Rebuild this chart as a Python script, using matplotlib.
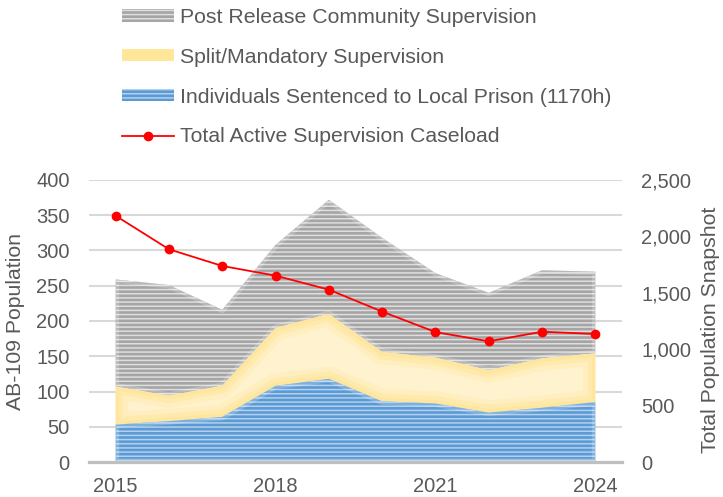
import matplotlib
matplotlib.use("Agg")
import matplotlib.pyplot as plt
import numpy as np
from matplotlib.patches import Patch, Polygon
from matplotlib.lines import Line2D
from matplotlib.ticker import FuncFormatter

years = [2015, 2016, 2017, 2018, 2019, 2020, 2021, 2022, 2023, 2024]
local_prison = [53, 58, 64, 108, 118, 86, 83, 70, 77, 85]
split_mandatory = [54, 36, 44, 82, 92, 70, 65, 60, 70, 69]
prcs = [152, 157, 108, 118, 162, 162, 120, 110, 125, 116]
total_caseload = [2183, 1886, 1738, 1652, 1528, 1333, 1152, 1070, 1155, 1135]
shown_year_labels = ["2015", "", "", "2018", "", "", "2021", "", "", "2024"]

labels = ["Post Release Community Supervision",
          "Split/Mandatory Supervision",
          "Individuals Sentenced to Local Prison (1170h)",
          "Total Active Supervision Caseload"]

plt.rcParams['font.family'] = ['Liberation Sans', 'DejaVu Sans']
plt.rcParams['hatch.linewidth'] = 1.1
TXT = '#595959'
LBL = 15.3

fig = plt.figure(figsize=(7.23, 4.97), dpi=100)
ax = fig.add_axes([89/723, 1-462/497, 533/723, 282/497])

x = np.arange(len(years))
b0 = np.zeros(len(x))
b1 = np.array(local_prison, float)
b2 = b1 + np.array(split_mandatory, float)
b3 = b2 + np.array(prcs, float)

def area(lo, hi, face, hatchcol, hatch, glows, z):
    verts = np.vstack([np.column_stack([x, hi]), np.column_stack([x[::-1], lo[::-1]])])
    poly = Polygon(verts, closed=True, facecolor=face, edgecolor=hatchcol if hatch else 'none',
                   hatch=hatch, linewidth=0, zorder=z)
    ax.add_patch(poly)
    for col, lw, a in glows:
        ln, = ax.plot(np.r_[verts[:, 0], verts[0, 0]], np.r_[verts[:, 1], verts[0, 1]],
                      color=col, lw=lw, alpha=a, zorder=z + 0.1, solid_joinstyle='round')
        ln.set_clip_path(poly)
    return poly

area(b2, b3, '#A5A5A5', '#DEDEDE', '----', [('white', 5, 0.22)], 2)
area(b1, b2, '#FFF3CF', None, None,
     [('#FFE38F', 18, 0.22), ('#FFE38F', 11, 0.35), ('#FFE38F', 5, 0.5)], 3)
area(b0, b1, '#5B9BD5', '#B4D0EC', '----', [('white', 5, 0.22)], 4)

ax.set_xlim(-0.5, len(x) - 0.5)
ax.set_ylim(0, 400)
ax.set_yticks(range(0, 401, 50))
ax.set_xticks(x)
ax.set_xticklabels(shown_year_labels)
ax.set_axisbelow(True)
ax.yaxis.grid(True, color='#D9D9D9', lw=1.5)
for s in ['top', 'right', 'left']:
    ax.spines[s].set_visible(False)
ax.spines['bottom'].set_color('#BFBFBF')
ax.spines['bottom'].set_linewidth(2.3)
ax.spines['bottom'].set_zorder(5)
ax.tick_params(axis='both', length=0, labelsize=14.5, labelcolor=TXT)
ax.tick_params(axis='y', pad=14)
ax.tick_params(axis='x', pad=11)
ax.set_ylabel("AB-109 Population", fontsize=LBL, color=TXT)
ax.yaxis.set_label_coords(-0.12, 0.5)

ax2 = ax.twinx()
ax2.plot(x, total_caseload, color='#FF0000', lw=1.3, marker='o', ms=6, zorder=6)
ax2.set_ylim(0, 2500)
ax2.set_yticks(range(0, 2501, 500))
ax2.yaxis.set_major_formatter(FuncFormatter(lambda v, p: f"{int(v):,}"))
for s in ['top', 'right', 'left', 'bottom']:
    ax2.spines[s].set_visible(False)
ax2.tick_params(axis='y', length=0, labelsize=14.5, labelcolor=TXT, pad=14)
ax2.set_ylabel("Total Population Snapshot", fontsize=LBL, color=TXT)
ax2.yaxis.set_label_coords(1.149, 0.47)

handles = [Patch(facecolor='#A5A5A5', edgecolor='#DEDEDE', hatch='----', lw=0),
           Patch(facecolor='#FFE699', edgecolor='none', lw=0),
           Patch(facecolor='#5B9BD5', edgecolor='#B4D0EC', hatch='----', lw=0),
           Line2D([], [], color='#FF0000', lw=1.3, marker='o', ms=6)]
leg = fig.legend(handles, labels, loc='upper left', bbox_to_anchor=(122/723, 1 - 8/497),
                 frameon=False, fontsize=LBL, labelcolor=TXT, handlelength=2.45,
                 handleheight=0.5, handletextpad=0.28, labelspacing=0.98,
                 borderpad=0, borderaxespad=0)

fig.savefig("out.png", dpi=100)
